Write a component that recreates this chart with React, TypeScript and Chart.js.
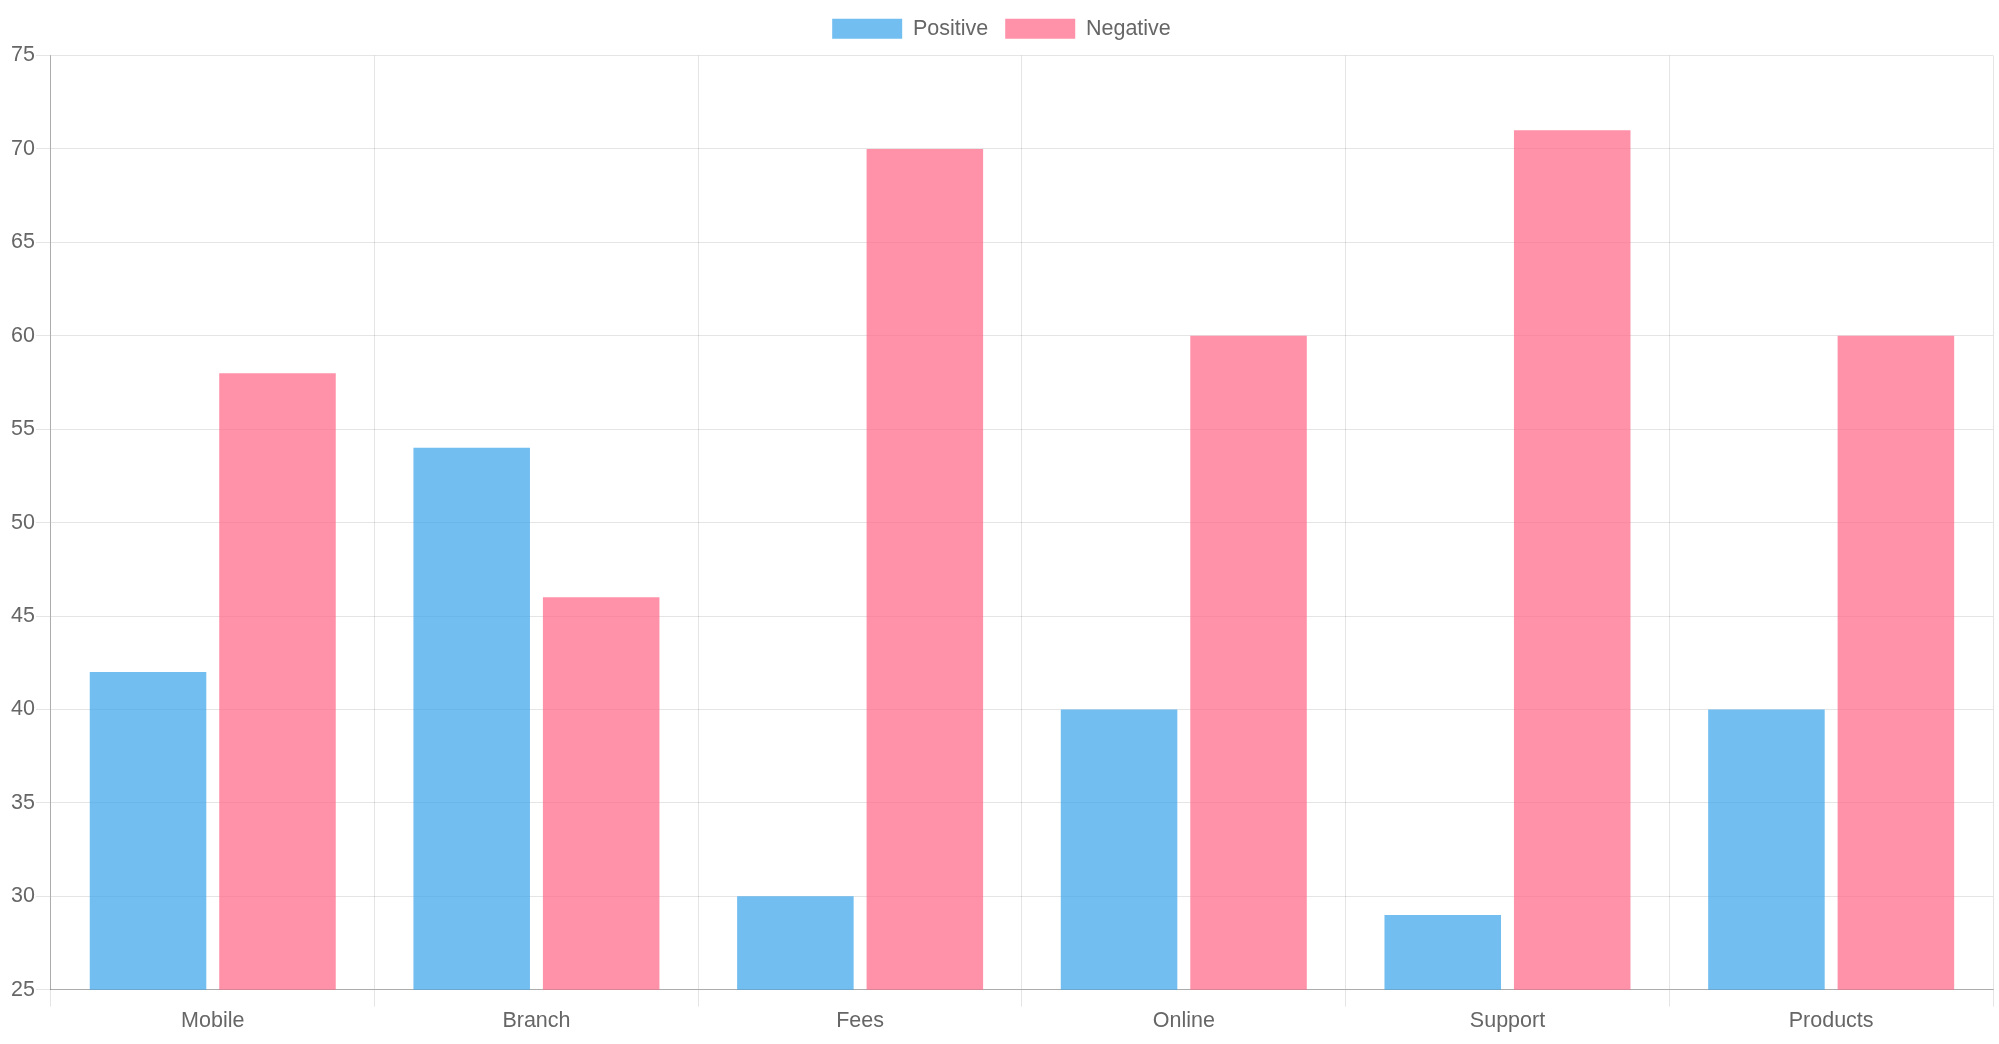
import { useEffect, useRef } from "react"
import { Chart, registerables } from "chart.js"

Chart.register(...registerables)

const categories = ["Mobile", "Branch", "Fees", "Online", "Support", "Products"]
const positiveValues = [42, 54, 30, 40, 29, 40]
const negativeValues = [58, 46, 70, 60, 71, 60]

const FONT = { family: "'Liberation Sans', Arial, sans-serif", size: 21.5 }

// extra room under the legend
const legendMargin = {
  id: "legendMargin",
  beforeInit(chart: any) {
    const fit = chart.legend.fit
    chart.legend.fit = function () {
      fit.bind(chart.legend)()
      this.height += 6
    }
  },
}

export default function App() {
  const chartRef = useRef<HTMLCanvasElement>(null)
  const chartInstance = useRef<Chart | null>(null)

  useEffect(() => {
    document.body.style.margin = "0"
    if (!chartRef.current) return
    if (chartInstance.current) chartInstance.current.destroy()

    const ctx = chartRef.current.getContext("2d")
    if (!ctx) return

    chartInstance.current = new Chart(ctx, {
      type: "bar",
      data: {
        labels: categories,
        datasets: [
          {
            label: "Positive",
            data: positiveValues,
            backgroundColor: "rgba(54, 162, 235, 0.7)",
            borderColor: "rgba(54, 162, 235, 0.7)",
            borderWidth: 0,
          },
          {
            label: "Negative",
            data: negativeValues,
            backgroundColor: "rgba(255, 99, 132, 0.7)",
            borderColor: "rgba(255, 99, 132, 0.7)",
            borderWidth: 0,
          },
        ],
      },
      plugins: [legendMargin],
      options: {
        animation: false,
        responsive: true,
        maintainAspectRatio: false,
        layout: { padding: { left: 10, right: 6, top: 1, bottom: 8.5 } },
        font: FONT,
        color: "#666",
        plugins: {
          legend: {
            position: "top",
            labels: {
              boxWidth: 70,
              boxHeight: 20,
              padding: 17,
              color: "#666",
              font: FONT,
            },
          },
          tooltip: { enabled: false },
        },
        scales: {
          x: {
            grid: { color: "rgba(0,0,0,0.1)", tickLength: 17, offset: true },
            border: { color: "rgba(0,0,0,0.25)" },
            ticks: { color: "#666", padding: 1.5, font: FONT },
          },
          y: {
            min: 25,
            max: 75,
            grid: { color: "rgba(0,0,0,0.1)", tickLength: 15 },
            border: { color: "rgba(0,0,0,0.25)" },
            ticks: { stepSize: 5, color: "#666", padding: 1, font: FONT },
          },
        },
      },
    })

    return () => {
      if (chartInstance.current) {
        chartInstance.current.destroy()
        chartInstance.current = null
      }
    }
  }, [])

  return (
    <div style={{ position: "absolute", left: 0, top: 0, width: 1999, height: 1044 }}>
      <canvas ref={chartRef} />
    </div>
  )
}
